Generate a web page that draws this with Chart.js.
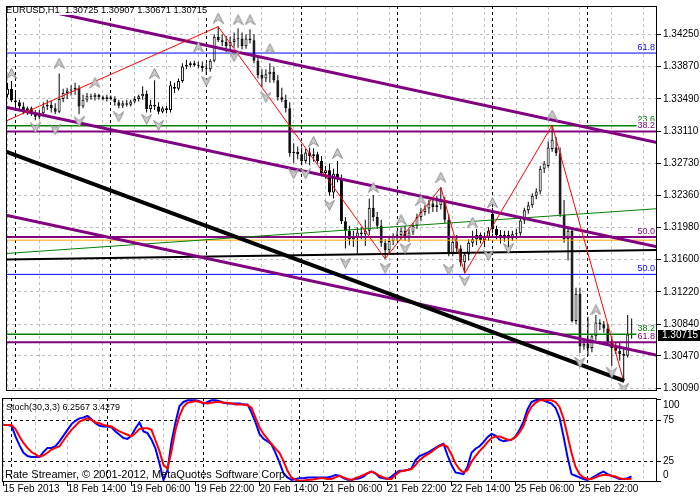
<!DOCTYPE html>
<html>
<head>
<meta charset="utf-8">
<title>EURUSD,H1</title>
<script src="https://cdn.jsdelivr.net/npm/chart.js@4.4.1/dist/chart.umd.min.js"></script>
<style>
  body { margin: 0; background: #fff; }
  #wrap { position: relative; width: 700px; height: 500px; overflow: hidden; background: #fff; }
  canvas { position: absolute; left: 0; }
  #priceChart { top: 0; }
  #stochChart { top: 397px; }
</style>
</head>
<body>
<div id="wrap">
  <canvas id="priceChart" width="700" height="397"></canvas>
  <canvas id="stochChart" width="700" height="103"></canvas>
</div>
<script>
// EURUSD H1, bar 0 = 15 Feb 2013 22:00 ... bar 157 = 26 Feb 11:00
const opens = [
  1.3354,1.3361,1.3347,1.3345,1.3340,1.3336,1.3338,1.3333,1.3328,1.3332,
  1.3340,1.3342,1.3338,1.3334,1.3349,1.3356,1.3359,1.3360,1.3362,1.3340,
  1.3348,1.3352,1.3351,1.3354,1.3351,1.3349,1.3351,1.3349,1.3345,1.3341,
  1.3344,1.3342,1.3346,1.3349,1.3352,1.3355,1.3337,1.3342,1.3340,1.3334,
  1.3338,1.3336,1.3363,1.3361,1.3370,1.3387,1.3389,1.3391,1.3389,1.3388,
  1.3385,1.3384,1.3394,1.3422,1.3418,1.3416,1.3411,1.3416,1.3419,1.3420,
  1.3411,1.3420,1.3418,1.3394,1.3377,1.3373,1.3378,1.3381,1.3371,1.3351,
  1.3348,1.3338,1.3285,1.3287,1.3284,1.3276,1.3286,1.3282,1.3284,1.3276,
  1.3262,1.3265,1.3239,1.3261,1.3255,1.3205,1.3194,1.3184,1.3187,1.3192,
  1.3190,1.3194,1.3221,1.3210,1.3200,1.3180,1.3171,1.3182,1.3188,1.3189,
  1.3194,1.3187,1.3192,1.3200,1.3210,1.3216,1.3220,1.3226,1.3222,1.3224,
  1.3230,1.3207,1.3168,1.3181,1.3173,1.3157,1.3166,1.3180,1.3184,1.3189,
  1.3183,1.3187,1.3214,1.3196,1.3189,1.3185,1.3189,1.3185,1.3190,1.3191,
  1.3206,1.3218,1.3224,1.3235,1.3240,1.3267,1.3270,1.3290,1.3292,1.3285,
  1.3213,1.3184,1.3194,1.3088,1.3120,1.3058,1.3061,1.3056,1.3070,1.3086,
  1.3084,1.3079,1.3064,1.3056,1.3053,1.3049,1.3047,1.30725
];
const highs = [
  1.3368,1.3370,1.3356,1.3348,1.3345,1.3340,1.3340,1.3336,1.3336,1.3345,
  1.3348,1.3347,1.3344,1.3379,1.3361,1.3362,1.3365,1.3368,1.3365,1.3354,
  1.3356,1.3355,1.3356,1.3355,1.3353,1.3354,1.3353,1.3352,1.3348,1.3347,
  1.3348,1.3348,1.3352,1.3354,1.3364,1.3359,1.3348,1.3371,1.3345,1.3340,
  1.3341,1.3370,1.3368,1.3373,1.3391,1.3395,1.3393,1.3394,1.3393,1.3393,
  1.3391,1.3396,1.3425,1.3434,1.3425,1.3423,1.3422,1.3427,1.3432,1.3427,
  1.3425,1.3431,1.3425,1.3400,1.3384,1.3384,1.3391,1.3387,1.3377,1.3362,
  1.3354,1.3345,1.3297,1.3293,1.3292,1.3290,1.3292,1.3291,1.3287,1.3282,
  1.3270,1.3273,1.3267,1.3276,1.3260,1.3210,1.3200,1.3194,1.3198,1.3198,
  1.3207,1.3232,1.3236,1.3216,1.3207,1.3184,1.3187,1.3191,1.3194,1.3198,
  1.3200,1.3196,1.3203,1.3214,1.3221,1.3224,1.3230,1.3232,1.3235,1.3245,
  1.3234,1.3213,1.3187,1.3189,1.3177,1.3169,1.3184,1.3194,1.3196,1.3192,
  1.3192,1.3198,1.3221,1.3200,1.3195,1.3194,1.3194,1.3194,1.3196,1.3210,
  1.3221,1.3228,1.3238,1.3244,1.3270,1.3276,1.3299,1.3318,1.3304,1.3292,
  1.3230,1.3198,1.3198,1.3127,1.3127,1.3065,1.3093,1.3072,1.3095,1.3090,
  1.3088,1.3084,1.3070,1.3063,1.3063,1.3056,1.3095,1.30907
];
const lows = [
  1.3351,1.3345,1.3336,1.3336,1.3331,1.3330,1.3329,1.3324,1.3325,1.3330,
  1.3336,1.3333,1.3331,1.3332,1.3345,1.3349,1.3353,1.3354,1.3331,1.3338,
  1.3345,1.3348,1.3347,1.3348,1.3347,1.3346,1.3347,1.3341,1.3338,1.3338,
  1.3340,1.3340,1.3344,1.3346,1.3348,1.3333,1.3333,1.3336,1.3331,1.3332,
  1.3332,1.3333,1.3356,1.3359,1.3368,1.3384,1.3386,1.3387,1.3385,1.3381,
  1.3377,1.3381,1.3392,1.3416,1.3411,1.3404,1.3406,1.3409,1.3409,1.3407,
  1.3408,1.3414,1.3391,1.3373,1.3363,1.3369,1.3368,1.3368,1.3347,1.3345,
  1.3333,1.3281,1.3274,1.3278,1.3271,1.3273,1.3271,1.3275,1.3273,1.3258,
  1.3255,1.3235,1.3232,1.3251,1.3202,1.3173,1.3177,1.3175,1.3167,1.3184,
  1.3176,1.3189,1.3205,1.3196,1.3175,1.3161,1.3166,1.3177,1.3182,1.3184,
  1.3182,1.3181,1.3189,1.3196,1.3205,1.3212,1.3214,1.3216,1.3216,1.3219,
  1.3203,1.3164,1.3164,1.3168,1.3152,1.3144,1.3159,1.3175,1.3177,1.3179,
  1.3175,1.3182,1.3191,1.3184,1.3179,1.3181,1.3173,1.3182,1.3184,1.3188,
  1.3202,1.3214,1.3221,1.3231,1.3237,1.3262,1.3268,1.3287,1.3282,1.3210,
  1.3180,1.3159,1.3086,1.3084,1.3050,1.3054,1.3047,1.3051,1.3065,1.3077,
  1.3074,1.3061,1.3035,1.3049,1.3041,1.3017,1.3045,1.30671
];
const closes = [
  1.3361,1.3347,1.3345,1.3340,1.3336,1.3338,1.3333,1.3328,1.3332,1.3340,
  1.3342,1.3338,1.3334,1.3349,1.3356,1.3359,1.3360,1.3362,1.3340,1.3348,
  1.3352,1.3351,1.3354,1.3351,1.3349,1.3351,1.3349,1.3345,1.3341,1.3344,
  1.3342,1.3346,1.3349,1.3352,1.3355,1.3337,1.3342,1.3340,1.3334,1.3338,
  1.3336,1.3365,1.3361,1.3370,1.3387,1.3389,1.3391,1.3389,1.3388,1.3385,
  1.3384,1.3394,1.3422,1.3418,1.3416,1.3411,1.3416,1.3419,1.3420,1.3411,
  1.3420,1.3418,1.3394,1.3377,1.3373,1.3378,1.3381,1.3371,1.3351,1.3348,
  1.3338,1.3285,1.3287,1.3284,1.3276,1.3286,1.3282,1.3284,1.3276,1.3262,
  1.3265,1.3239,1.3261,1.3255,1.3205,1.3194,1.3184,1.3187,1.3192,1.3190,
  1.3194,1.3221,1.3210,1.3200,1.3180,1.3171,1.3182,1.3188,1.3189,1.3194,
  1.3187,1.3192,1.3200,1.3210,1.3216,1.3220,1.3226,1.3222,1.3224,1.3230,
  1.3207,1.3168,1.3181,1.3173,1.3157,1.3166,1.3180,1.3184,1.3189,1.3183,
  1.3187,1.3194,1.3196,1.3189,1.3185,1.3189,1.3185,1.3190,1.3191,1.3206,
  1.3218,1.3224,1.3235,1.3240,1.3267,1.3273,1.3292,1.3301,1.3285,1.3213,
  1.3184,1.3194,1.3088,1.3120,1.3058,1.3061,1.3056,1.3070,1.3086,1.3084,
  1.3079,1.3064,1.3056,1.3053,1.3049,1.3047,1.3072,1.30715
];

// Stochastic(30,3,3): main (%K) and signal (%D)
const stochMain = [
  69,69,68,55,44,35,31,30,30,30,
  36,41,41,43,49,56,63,70,74,77,
  78,80,76,71,68,67,67,66,61,57,
  53,52,56,65,72,61,59,51,40,22,
  2,14,48,72,92,97,99,99,99,98,
  95,97,99,99,98,96,95,95,95,95,
  94,94,84,72,58,52,49,45,35,23,
  10,5,2,3,4,4,5,5,5,5,
  5,5,6,8,7,4,2,2,3,4,
  6,10,12,10,5,4,3,6,10,13,
  13,14,16,26,31,33,35,38,41,44,
  46,32,20,11,10,9,18,35,40,43,
  48,54,58,56,51,49,50,51,55,63,
  73,88,97,99,100,99,97,95,90,78,
  55,30,9,7,5,3,2,4,7,10,
  12,9,7,5,3,3,4,6.2567
];
const stochSignal = [
  69,69,69,64,55,47,41,36,33,30,
  32,35,39,41,43,50,57,63,68,73,
  75,77,75,72,71,69,68,67,64,61,
  59,57,55,59,64,65,65,63,50,37,
  20,16,37,63,80,91,96,97,98,97,
  96,95,96,97,97,96,96,95,94,94,
  94,93,90,78,66,58,52,46,40,35,
  25,13,5,2,1,1,2,2,3,4,
  4,3,3,5,7,5,3,2,4,6,
  8,10,12,10,7,5,3,3,8,12,
  13,14,15,20,26,30,33,36,40,43,
  45,42,33,22,15,11,14,24,31,37,
  42,48,53,55,55,53,51,51,54,60,
  68,82,91,96,99,99,99,99,97,91,
  77,56,35,18,9,5,3,3,5,7,
  8,8,7,6,4,3,3,3.4279
];

// Fractals (bar index, price of the arrow)
const upFractalBars = [1,13,22,37,48,53,58,61,66,77,83,92,99,104,109,117,122,137,148];
const upFractalPrices = [1.3379,1.3391,1.3368,1.3379,1.3410,1.3444,1.3442,1.3442,1.3408,1.3299,1.3285,1.3245,1.3207,1.3230,1.3257,1.3204,1.3227,1.3330,1.3101];
const downFractalBars = [7,12,18,28,35,38,50,57,65,72,75,81,85,95,100,111,115,121,126,144,152,155];
const downFractalPrices = [1.3315,1.3313,1.3322,1.3328,1.3325,1.3318,1.3370,1.3399,1.3351,1.3261,1.3261,1.3224,1.3156,1.3150,1.3173,1.3148,1.3135,1.3165,1.3173,1.3039,1.3027,1.3009];

// ZigZag swing points
const zigzagBars = [-0.375, 53, 95, 109, 115, 137, 155];
const zigzagPrices = [1.3323, 1.3434, 1.3161, 1.3245, 1.3144, 1.3318, 1.3017];

// Trend lines: [bar, price] end points
const channelTop = [[-0.375, 1.34627], [163.375, 1.32978]];
const channelMid = [[-0.375, 1.33391], [163.375, 1.31752]];
const channelLow = [[-0.375, 1.32122], [163.375, 1.30476]];
const blackTrend = [[-0.375, 1.32869], [155.125, 1.30176]];
const greenTrend = [[-0.375, 1.31672], [163.375, 1.32199]];
const blackFlat = [[-0.375, 1.31603], [163.375, 1.31712]];

// Fibonacci levels
const fiboBlueLevels = [1.34029, 1.31427];
const fiboBlueText = ['61.8', '50.0'];
const fiboGreenLevels = [1.33173, 1.30724];
const fiboGreenText = ['23.6', '38.2'];
const fiboPurpleLevels = [1.33106, 1.31866, 1.30629];
const fiboPurpleText = ['38.2', '50.0', '61.8'];
const orangeLevel = 1.31829;

// Axes
const priceTicks = [1.34250, 1.33870, 1.33490, 1.33110, 1.32730, 1.32360, 1.31980, 1.31600, 1.31220, 1.30840, 1.30470, 1.30090];
const stochTicks = [100, 75, 25, 0];
const xTickLabels = ['15 Feb 2013', '18 Feb 14:00', '19 Feb 06:00', '19 Feb 22:00', '20 Feb 14:00',
  '21 Feb 06:00', '21 Feb 22:00', '22 Feb 14:00', '25 Feb 06:00', '25 Feb 22:00'];
const separatorBars = [2, 26, 50, 74, 98, 122, 146];

Chart.defaults.font.family = '"Liberation Sans", Arial, sans-serif';
Chart.defaults.font.size = 10;
Chart.defaults.color = '#000';

const last = closes.length - 1;
const X_MIN = -0.375, X_MAX = 163.375;
const PRICE_MIN = 1.300556, PRICE_MAX = 1.345823;
const STOCH_MIN = -0.61, STOCH_MAX = 101.83;
const FONT = '"Liberation Sans", Arial, sans-serif';

const gridBars = [];
for (let b = 0; b <= 160; b += 8) gridBars.push(b);

function noPad(s) {
  s.paddingTop = 0; s.paddingBottom = 0; s.paddingLeft = 0; s.paddingRight = 0;
}

function makeArrow(up) {
  const c = document.createElement('canvas');
  c.width = 11; c.height = 11;
  const g = c.getContext('2d');
  if (!up) { g.translate(0, 11); g.scale(1, -1); }
  g.beginPath();
  g.moveTo(5.5, 0.5); g.lineTo(10.5, 10.5); g.lineTo(5.5, 7); g.lineTo(0.5, 10.5);
  g.closePath();
  g.fillStyle = '#cccccc'; g.fill();
  g.strokeStyle = '#8c8c8c'; g.lineWidth = 1; g.stroke();
  return c;
}

function lineSet(points, color, width) {
  return {
    type: 'line',
    data: points.map(p => ({ x: p[0], y: p[1] })),
    borderColor: color, borderWidth: width,
    pointRadius: 0, fill: false, tension: 0, clip: 0
  };
}
function levelSet(price, color, width) {
  return lineSet([[X_MIN, price], [X_MAX, price]], color, width);
}
function arrowSet(bars, prices, icon) {
  return {
    type: 'line',
    data: bars.map((b, i) => ({ x: b, y: prices[i] })),
    showLine: false, pointStyle: icon, pointRadius: 5, clip: 0
  };
}

// black dashed day separators
const separatorPlugin = {
  id: 'separators',
  beforeDatasetsDraw(chart) {
    const { ctx, chartArea: a, scales: { x } } = chart;
    ctx.save();
    ctx.strokeStyle = '#000'; ctx.lineWidth = 1; ctx.setLineDash([3, 3]);
    separatorBars.forEach(b => {
      const px = Math.round(x.getPixelForValue(b) - 0.5) + 0.5;
      ctx.beginPath(); ctx.moveTo(px, a.top); ctx.lineTo(px, a.bottom); ctx.stroke();
    });
    ctx.restore();
  }
};

const framePlugin = {
  id: 'frame',
  afterDraw(chart) {
    const { ctx, chartArea: a } = chart;
    ctx.save();
    ctx.strokeStyle = '#000'; ctx.lineWidth = 1; ctx.setLineDash([]);
    ctx.strokeRect(a.left + 0.5, a.top + 0.5, a.right - a.left - 1, a.bottom - a.top - 1);
    ctx.restore();
  }
};

const priceTextPlugin = {
  id: 'priceTexts',
  afterDatasetsDraw(chart) {
    const { ctx, scales: { y } } = chart;
    ctx.save();
    // fibo level texts
    ctx.font = '9px ' + FONT;
    ctx.textAlign = 'right'; ctx.textBaseline = 'bottom';
    const drawFibo = (levels, texts, color, bg) => levels.forEach((p, i) => {
      const py = y.getPixelForValue(p);
      if (bg) {
        const w = ctx.measureText(texts[i]).width;
        ctx.fillStyle = '#fff';
        ctx.fillRect(655 - w - 1, Math.round(py) - 11, w + 2, 9);
      }
      ctx.fillStyle = color;
      ctx.fillText(texts[i], 655, py - 1.5);
    });
    drawFibo(fiboBlueLevels, fiboBlueText, '#0000ff', false);
    drawFibo(fiboGreenLevels, fiboGreenText, '#008000', false);
    drawFibo(fiboPurpleLevels, fiboPurpleText, '#800080', true);

    // symbol title
    const title = 'EURUSD,H1  ' + [opens[last], highs[last], lows[last], closes[last]].map(v => v.toFixed(5)).join(' ');
    ctx.font = '9.3px ' + FONT;
    ctx.textAlign = 'left'; ctx.textBaseline = 'middle';
    const tw = ctx.measureText(title).width;
    ctx.fillStyle = '#fff';
    ctx.fillRect(4, 5, tw + 4, 10);
    ctx.fillStyle = '#000';
    ctx.fillText(title, 6, 10.5);

    // current price box on the axis
    const py = y.getPixelForValue(closes[last]);
    ctx.fillStyle = '#000';
    ctx.fillRect(658, Math.round(py) - 5, 42, 11);
    ctx.font = '10px ' + FONT;
    ctx.fillStyle = '#fff';
    ctx.fillText(closes[last].toFixed(5), 662, py + 0.5);
    ctx.restore();
  }
};

const stochTextPlugin = {
  id: 'stochTexts',
  afterDatasetsDraw(chart) {
    const { ctx } = chart;
    ctx.save();
    ctx.fillStyle = '#000';
    ctx.textAlign = 'left'; ctx.textBaseline = 'middle';
    ctx.font = '9px ' + FONT;
    ctx.fillText('Stoch(30,3,3) ' + stochMain[last].toFixed(4) + ' ' + stochSignal[last].toFixed(4), 6, 10.5);
    ctx.font = '11px ' + FONT;
    ctx.fillText('Rate Streamer, \u00A9 2001-2012, MetaQuotes Software Corp.', 5, 77.5);
    ctx.restore();
  }
};

// ---- main price chart ----
const upIcon = makeArrow(true);
const downIcon = makeArrow(false);

const priceSets = [
  {
    type: 'bar',
    data: closes.map((c, i) => ({ x: i, y: [lows[i], highs[i]] })),
    backgroundColor: '#000', borderWidth: 0, barThickness: 1,
    grouped: false, inflateAmount: 0
  },
  {
    type: 'bar',
    data: closes.map((c, i) => ({ x: i, y: [opens[i], c] })),
    backgroundColor: ctx => closes[ctx.dataIndex] >= opens[ctx.dataIndex] ? '#fff' : '#000',
    borderColor: '#000', borderWidth: 1, borderSkipped: false,
    barThickness: 3, minBarLength: 1, grouped: false, inflateAmount: 0
  },
  ...fiboBlueLevels.map(p => levelSet(p, '#0000ff', 1)),
  ...fiboGreenLevels.map(p => levelSet(p, '#008000', 1.5)),
  levelSet(orangeLevel, '#ffa500', 1),
  ...fiboPurpleLevels.map(p => levelSet(p, '#800080', 2)),
  lineSet(greenTrend, '#008000', 1),
  lineSet(blackFlat, '#000000', 2),
  lineSet(channelTop, '#800080', 3),
  lineSet(channelMid, '#800080', 3),
  lineSet(channelLow, '#800080', 3),
  lineSet(zigzagBars.map((b, i) => [b, zigzagPrices[i]]), '#ff0000', 1),
  lineSet(blackTrend, '#000000', 4),
  arrowSet(upFractalBars, upFractalPrices, upIcon),
  arrowSet(downFractalBars, downFractalPrices, downIcon)
];
// first in the list is drawn first (at the back)
priceSets.forEach((d, k) => { d.order = priceSets.length - k; });

new Chart(document.getElementById('priceChart'), {
  type: 'bar',
  data: { datasets: priceSets },
  options: {
    responsive: false,
    animation: false,
    events: [],
    layout: { padding: { left: 2, top: 1, right: 0, bottom: 1 } },
    plugins: { legend: { display: false }, tooltip: { enabled: false } },
    scales: {
      x: {
        type: 'linear', min: X_MIN, max: X_MAX, offset: false,
        afterBuildTicks: s => { s.ticks = gridBars.map(v => ({ value: v })); },
        afterFit: s => { s.height = 0; noPad(s); },
        ticks: { display: false },
        grid: { color: '#c0c0c0', drawTicks: false, offset: false },
        border: { display: false, dash: [3, 3] }
      },
      y: {
        position: 'right', min: PRICE_MIN, max: PRICE_MAX,
        afterBuildTicks: s => { s.ticks = priceTicks.map(v => ({ value: v })); },
        afterFit: s => { s.width = 43; noPad(s); },
        ticks: { padding: 2, autoSkip: false, callback: v => v.toFixed(5) },
        grid: { color: '#c0c0c0', tickColor: '#000', tickLength: 4 },
        border: { display: false, dash: [3, 3] }
      }
    }
  },
  plugins: [separatorPlugin, priceTextPlugin, framePlugin]
});

// ---- stochastic panel ----
new Chart(document.getElementById('stochChart'), {
  type: 'line',
  data: {
    datasets: [
      {
        data: stochMain.map((v, i) => ({ x: i, y: v })),
        borderColor: '#0000ff', borderWidth: 2, pointRadius: 0, tension: 0, fill: false, order: 2
      },
      {
        data: stochSignal.map((v, i) => ({ x: i, y: v })),
        borderColor: '#ff0000', borderWidth: 2, pointRadius: 0, tension: 0, fill: false, order: 1
      }
    ]
  },
  options: {
    responsive: false,
    animation: false,
    events: [],
    layout: { padding: { left: 2, top: 1, right: 0, bottom: 0 } },
    plugins: { legend: { display: false }, tooltip: { enabled: false } },
    scales: {
      x: {
        type: 'linear', min: X_MIN, max: X_MAX, offset: false,
        afterBuildTicks: s => { s.ticks = gridBars.map(v => ({ value: v })); },
        afterFit: s => { s.height = 18; noPad(s); },
        ticks: {
          autoSkip: false, maxRotation: 0, minRotation: 0, align: 'start', padding: -3,
          callback: v => (v % 16 === 0 && xTickLabels[v / 16]) ? xTickLabels[v / 16] : ''
        },
        grid: {
          color: '#c0c0c0', offset: false, tickLength: 4,
          tickColor: ctx => (ctx.tick && ctx.tick.value % 16 === 0 && xTickLabels[ctx.tick.value / 16]) ? '#000' : 'rgba(0,0,0,0)'
        },
        border: { display: false, dash: [3, 3] }
      },
      y: {
        position: 'right', min: STOCH_MIN, max: STOCH_MAX,
        afterBuildTicks: s => { s.ticks = stochTicks.map(v => ({ value: v })); },
        afterFit: s => { s.width = 43; noPad(s); },
        ticks: {
          padding: 2, autoSkip: false,
          callback: v => v === 100 ? ['', '100'] : (v === 0 ? ['0', ''] : String(v))
        },
        grid: {
          color: ctx => (ctx.tick && (ctx.tick.value === 75 || ctx.tick.value === 25)) ? '#000' : 'rgba(0,0,0,0)',
          tickColor: '#000', tickLength: 4
        },
        border: { display: false, dash: [3, 3] }
      }
    }
  },
  plugins: [separatorPlugin, stochTextPlugin, framePlugin]
});
</script>
</body>
</html>
